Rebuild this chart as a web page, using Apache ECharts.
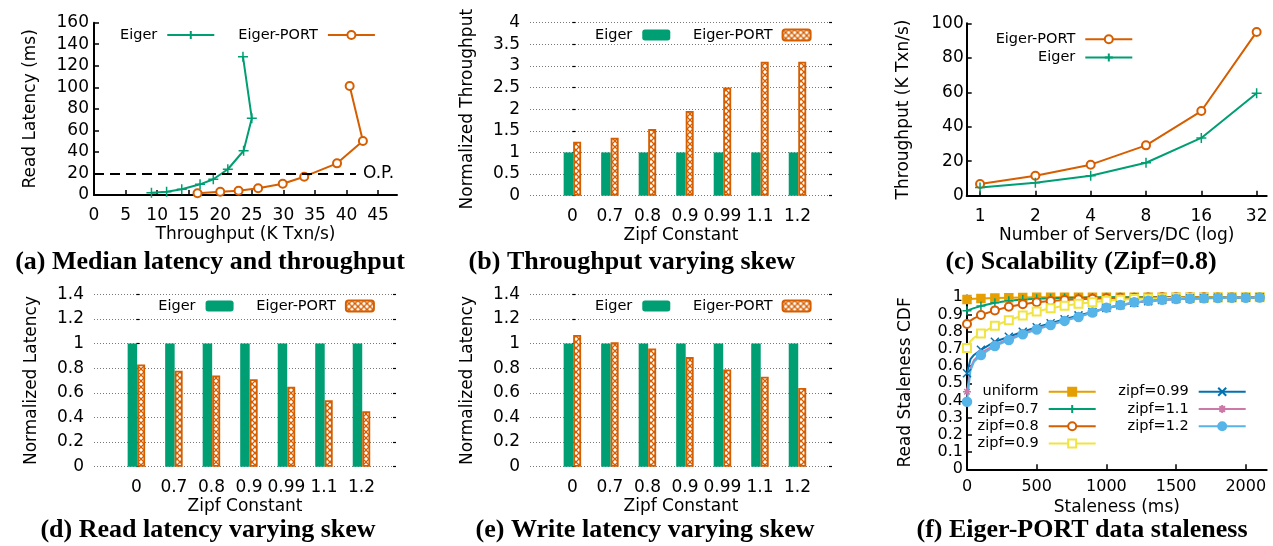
<!DOCTYPE html>
<html>
<head>
<meta charset="utf-8">
<title>Eiger vs Eiger-PORT</title>
<script src="https://cdn.jsdelivr.net/npm/echarts@6/dist/echarts.min.js"></script>
<style>
  html, body { margin: 0; padding: 0; background: #fff; }
  #chart { width: 1273px; height: 546px; }
</style>
</head>
<body>
<div id="chart"></div>
<script>
// (a) median read latency vs throughput
const eigerTputA = [9.1, 11.5, 13.9, 16.8, 18.9, 21.2, 23.7, 25.0, 23.6];
const eigerLatA = [2.1, 3.1, 5.3, 9.9, 14.6, 23.9, 41.1, 71.2, 128.4];
const portTputA = [16.4, 20.0, 22.9, 26.0, 29.9, 33.3, 38.5, 42.6, 40.5];
const portLatA = [1.6, 3.1, 4.0, 6.2, 10.5, 17.0, 29.4, 50.1, 101.2];
const opLatency = 20;     // operating point
const opLineEnd = 41.5;

// (b) (d) (e) share the zipf categories
const zipfLabels = ['0', '0.7', '0.8', '0.9', '0.99', '1.1', '1.2'];
const eigerNormTput = [1, 1, 1, 1, 1, 1, 1];
const portNormTput = [1.25, 1.34, 1.54, 1.96, 2.5, 3.1, 3.1];
const eigerReadLat = [1, 1, 1, 1, 1, 1, 1];
const portReadLat = [0.83, 0.78, 0.74, 0.71, 0.65, 0.54, 0.45];
const eigerWriteLat = [1, 1, 1, 1, 1, 1, 1];
const portWriteLat = [1.07, 1.01, 0.96, 0.89, 0.79, 0.73, 0.64];

// (c) scalability
const serversPerDC = [1, 2, 4, 8, 16, 32];
const portScaleTput = [6.8, 11.6, 18, 29.2, 49.1, 95];
const eigerScaleTput = [4.8, 7.5, 11.6, 19.1, 33.5, 59.4];

// (f) staleness CDF, markers only every 100 ms
const stalenessMs = [0, 25, 50, 100, 200, 300, 400, 500, 600, 700, 800, 900, 1000,
  1100, 1200, 1300, 1400, 1500, 1600, 1700, 1800, 1900, 2000, 2100];
const cdfUniform = [0.988, 0.990, 0.991, 0.993, 0.996, 0.998, 0.999, 1, 1, 1, 1, 1, 1, 1, 1, 1, 1, 1, 1, 1, 1, 1, 1, 1];
const cdfZipf07 = [0.922, 0.930, 0.937, 0.949, 0.968, 0.980, 0.988, 0.992, 0.995, 0.997, 0.998, 0.999, 1, 1, 1, 1, 1, 1, 1, 1, 1, 1, 1, 1];
const cdfZipf08 = [0.845, 0.865, 0.878, 0.897, 0.924, 0.945, 0.960, 0.971, 0.978, 0.985, 0.989, 0.992, 0.995, 0.997, 0.998, 0.999, 1, 1, 1, 1, 1, 1, 1, 1];
const cdfZipf09 = [0.705, 0.745, 0.765, 0.790, 0.835, 0.867, 0.895, 0.918, 0.937, 0.951, 0.963, 0.972, 0.980, 0.986, 0.990, 0.993, 0.995, 0.997, 0.998, 0.998, 0.999, 0.999, 1, 1];
const cdfZipf099 = [0.558, 0.640, 0.665, 0.695, 0.742, 0.771, 0.800, 0.826, 0.849, 0.872, 0.895, 0.915, 0.938, 0.954, 0.968, 0.978, 0.985, 0.990, 0.993, 0.995, 0.997, 0.998, 0.999, 1];
const cdfZipf11 = [0.451, 0.590, 0.635, 0.675, 0.725, 0.758, 0.790, 0.817, 0.842, 0.866, 0.889, 0.911, 0.937, 0.953, 0.969, 0.979, 0.985, 0.989, 0.992, 0.995, 0.996, 0.998, 0.999, 1];
const cdfZipf12 = [0.393, 0.575, 0.625, 0.664, 0.717, 0.752, 0.785, 0.813, 0.839, 0.863, 0.886, 0.912, 0.940, 0.955, 0.971, 0.980, 0.986, 0.990, 0.992, 0.994, 0.996, 0.997, 0.998, 0.999];
const markerEveryMs = 100;

const FONT = 'DejaVu Sans';
const BLACK = '#000';
const C_GREEN = '#009e73';
const C_ORANGE = '#d55e00';
const C_UNIFORM = '#e69f00';
const C_YELLOW = '#f0e442';
const C_BLUE = '#0072b2';
const C_PINK = '#cc79a7';
const C_SKY = '#56b4e9';

const SYM_PLUS = 'path://M5,0V10M0,5H10';
const SYM_CROSS = 'path://M0,0L10,10M10,0L0,10';
const SYM_STAR = 'path://M5,0V10M0,5H10M1.5,1.5L8.5,8.5M8.5,1.5L1.5,8.5';

const tickLabel = { color: BLACK, fontSize: 17, fontFamily: FONT };
const nameStyle = { color: BLACK, fontSize: 17, fontFamily: FONT };
const legendText = { color: BLACK, fontSize: 14.5, fontFamily: FONT, lineHeight: 15, padding: [0, 5, 0, 0] };

function hatchPattern(color) {
  const size = 6;
  const c = document.createElement('canvas');
  c.width = size; c.height = size;
  const g = c.getContext('2d');
  g.fillStyle = '#ffffff';
  g.fillRect(0, 0, size, size);
  g.strokeStyle = color;
  g.lineWidth = 1.3;
  g.beginPath();
  g.moveTo(0, 0); g.lineTo(size, size);
  g.moveTo(size, 0); g.lineTo(0, size);
  g.stroke();
  return { image: c, repeat: 'repeat' };
}
const portHatch = hatchPattern(C_ORANGE);

const grids = [
  { left: 94, top: 22.7, width: 303, height: 172.3 },    // a
  { left: 530, top: 22.7, width: 302, height: 173 },     // b
  { left: 966.7, top: 23.3, width: 300, height: 172.4 }, // c
  { left: 94, top: 294.3, width: 302, height: 172.4 },   // d
  { left: 530, top: 294.3, width: 302, height: 172.4 },  // e
  { left: 967, top: 295.6, width: 299.7, height: 173.7 } // f
].map(g => ({ ...g, containLabel: false, outerBoundsMode: 'none' }));

const xAxes = [];
const yAxes = [];
const series = [];
const legends = [];

// plain gnuplot style axis with a border on left/bottom and inward ticks
function borderAxis(extra) {
  return Object.assign({
    type: 'value',
    nameLocation: 'middle',
    nameTextStyle: nameStyle,
    axisLine: { show: true, onZero: false, lineStyle: { color: BLACK, width: 2 } },
    axisTick: { show: true, inside: true, length: 5, lineStyle: { color: BLACK, width: 1.5 } },
    splitLine: { show: false }
  }, extra);
}

function lineSeries(name, xi, yi, color, symbol, symbolSize, data) {
  return {
    name, type: 'line', xAxisIndex: xi, yAxisIndex: yi,
    symbol, symbolSize,
    lineStyle: { color, width: 2 },
    itemStyle: { color, borderColor: color, borderWidth: 1.5 },
    data
  };
}

// ---- (a)
xAxes.push(borderAxis({
  gridIndex: 0, min: 0, max: 48, interval: 5,
  name: 'Throughput (K Txn/s)', nameGap: 31,
  axisLabel: { ...tickLabel, margin: 12, showMaxLabel: false }
}));
yAxes.push(borderAxis({
  gridIndex: 0, min: 0, max: 160, interval: 20,
  name: 'Read Latency (ms)', nameGap: 55,
  axisLabel: { ...tickLabel, margin: 5 }
}));
series.push(Object.assign(
  lineSeries('a:Eiger', 0, 0, C_GREEN, SYM_PLUS, 10, eigerTputA.map((x, i) => [x, eigerLatA[i]])),
  {
    markLine: {
      silent: true, symbol: 'none',
      lineStyle: { color: BLACK, type: [10, 6], width: 2 },
      label: { show: true, position: 'end', formatter: 'O.P.', color: BLACK, fontSize: 17, fontFamily: FONT, distance: 7 },
      data: [[{ coord: [0, opLatency] }, { coord: [opLineEnd, opLatency] }]]
    }
  }
));
series.push(lineSeries('a:Eiger-PORT', 0, 0, C_ORANGE, 'emptyCircle', 8, portTputA.map((x, i) => [x, portLatA[i]])));
legends.push({
  left: 120, top: 27.5, orient: 'horizontal', align: 'right',
  itemWidth: 47, itemHeight: 10, itemGap: 23,
  data: ['a:Eiger', 'a:Eiger-PORT']
});

// ---- bar panels (b) (d) (e)
function addBarPanel(p) {
  const xi = xAxes.length;
  xAxes.push({
    type: 'value', gridIndex: p.grid, min: -1.13, max: 6.92,
    name: 'Zipf Constant', nameLocation: 'middle', nameGap: 31, nameTextStyle: nameStyle,
    axisLine: { show: false, onZero: false }, axisTick: { show: false }, splitLine: { show: false },
    axisLabel: {
      ...tickLabel, margin: 12,
      customValues: zipfLabels.map((_, i) => i),
      formatter: v => zipfLabels[Math.round(v)]
    }
  });
  const yi = yAxes.length;
  const tick = { show: true, inside: true, length: 3, lineStyle: { color: BLACK, width: 1.2 } };
  yAxes.push({
    type: 'value', gridIndex: p.grid, min: 0, max: p.max, interval: p.interval,
    name: p.yName, nameLocation: 'middle', nameGap: 54, nameTextStyle: nameStyle,
    axisLine: { show: false }, axisTick: tick,
    axisLabel: { ...tickLabel, margin: 10 },
    splitLine: { show: true, lineStyle: { color: '#777', type: [1, 2], width: 1 } }
  });
  yAxes.push({
    type: 'value', gridIndex: p.grid, position: 'right', min: 0, max: p.max, interval: p.interval,
    axisLine: { show: false }, axisTick: tick, axisLabel: { show: false }, splitLine: { show: false }
  });
  series.push({
    name: p.key + ':Eiger', type: 'bar', xAxisIndex: xi, yAxisIndex: yi,
    barWidth: 9.5, barGap: '0%',
    itemStyle: { color: C_GREEN },
    data: p.eiger.map((v, i) => [i, v])
  });
  series.push({
    name: p.key + ':Eiger-PORT', type: 'bar', xAxisIndex: xi, yAxisIndex: yi,
    barWidth: 8, barGap: '0%',
    itemStyle: { color: portHatch, borderColor: C_ORANGE, borderWidth: 1.8 },
    data: p.port.map((v, i) => [i, v])
  });
  legends.push({
    left: p.legendLeft, top: p.legendTop, orient: 'horizontal', align: 'right',
    itemWidth: 28, itemHeight: 11, itemGap: 22.7,
    data: [p.key + ':Eiger', p.key + ':Eiger-PORT']
  });
}

addBarPanel({ key: 'b', grid: 1, max: 4, interval: 0.5, yName: 'Normalized Throughput',
  eiger: eigerNormTput, port: portNormTput, legendLeft: 595, legendTop: 27.5 });

// ---- (c)
xAxes.push(borderAxis({
  type: 'log', logBase: 2, gridIndex: 2, min: 0.846, max: 36.3,
  name: 'Number of Servers/DC (log)', nameGap: 31,
  axisLabel: { ...tickLabel, margin: 12, showMinLabel: false, showMaxLabel: false }
}));
yAxes.push(borderAxis({
  gridIndex: 2, min: 0, max: 100, interval: 20,
  name: 'Throughput (K Txn/s)', nameGap: 55,
  axisLabel: { ...tickLabel, margin: 3 }
}));
series.push(lineSeries('c:Eiger-PORT', 2, 3, C_ORANGE, 'emptyCircle', 8, serversPerDC.map((s, i) => [s, portScaleTput[i]])));
series.push(lineSeries('c:Eiger', 2, 3, C_GREEN, SYM_PLUS, 10, serversPerDC.map((s, i) => [s, eigerScaleTput[i]])));
legends.push({
  right: 139.7, top: 31.8, orient: 'vertical', align: 'right',
  itemWidth: 47, itemHeight: 10, itemGap: 3.3,
  data: ['c:Eiger-PORT', 'c:Eiger']
});

addBarPanel({ key: 'd', grid: 3, max: 1.4, interval: 0.2, yName: 'Normalized Latency',
  eiger: eigerReadLat, port: portReadLat, legendLeft: 158.3, legendTop: 298.5 });
addBarPanel({ key: 'e', grid: 4, max: 1.4, interval: 0.2, yName: 'Normalized Latency',
  eiger: eigerWriteLat, port: portWriteLat, legendLeft: 595, legendTop: 298.5 });

// ---- (f)
const fx = xAxes.length;
xAxes.push(borderAxis({
  gridIndex: 5, min: 0, max: 2150, interval: 500,
  name: 'Staleness (ms)', nameGap: 30,
  axisLabel: { ...tickLabel, fontSize: 16, margin: 10, showMaxLabel: false, formatter: v => String(v) }
}));
const fy = yAxes.length;
yAxes.push(borderAxis({
  gridIndex: 5, min: 0, max: 1.01, interval: 0.1,
  name: 'Read Staleness CDF', nameGap: 53,
  axisLabel: { ...tickLabel, fontSize: 16, margin: 4, showMaxLabel: false }
}));

function cdfData(values) {
  return stalenessMs.map((ms, i) => ms % markerEveryMs === 0
    ? [ms, values[i]]
    : { value: [ms, values[i]], symbol: 'none' });
}
const cdfSeries = [
  ['f:uniform', cdfUniform, C_UNIFORM, 'rect', 8],
  ['f:zipf=0.7', cdfZipf07, C_GREEN, SYM_PLUS, 9],
  ['f:zipf=0.8', cdfZipf08, C_ORANGE, 'emptyCircle', 8],
  ['f:zipf=0.9', cdfZipf09, C_YELLOW, 'emptyRect', 8],
  ['f:zipf=0.99', cdfZipf099, C_BLUE, SYM_CROSS, 8],
  ['f:zipf=1.1', cdfZipf11, C_PINK, SYM_STAR, 8],
  ['f:zipf=1.2', cdfZipf12, C_SKY, 'circle', 9]
];
cdfSeries.forEach(([name, vals, color, sym, size]) => {
  series.push(lineSeries(name, fx, fy, color, sym, size, cdfData(vals)));
});
legends.push({
  right: 176.3, top: 384.2, orient: 'vertical', align: 'right',
  itemWidth: 47, itemHeight: 10, itemGap: 2.3,
  data: ['f:uniform', 'f:zipf=0.7', 'f:zipf=0.8', 'f:zipf=0.9']
});
legends.push({
  right: 26.3, top: 384.2, orient: 'vertical', align: 'right',
  itemWidth: 47, itemHeight: 10, itemGap: 2.3,
  data: ['f:zipf=0.99', 'f:zipf=1.1', 'f:zipf=1.2']
});

legends.forEach(l => {
  l.padding = 0;
  l.textStyle = legendText;
  l.formatter = n => n.slice(2);
  l.selectedMode = false;
});

// subfigure captions
const captions = [
  ['(a) Median latency and throughput', 210, 262],
  ['(b) Throughput varying skew', 632, 262],
  ['(c) Scalability (Zipf=0.8)', 1081, 262],
  ['(d) Read latency varying skew', 208, 530],
  ['(e) Write latency varying skew', 645, 530],
  ['(f) Eiger-PORT data staleness', 1082, 530]
];

const chart = echarts.init(document.getElementById('chart'));
chart.setOption({
  animation: false,
  backgroundColor: '#fff',
  textStyle: { fontFamily: FONT },
  grid: grids,
  xAxis: xAxes,
  yAxis: yAxes,
  legend: legends,
  series,
  graphic: captions.map(([text, x, y]) => ({
    type: 'text', x, y, silent: true,
    style: {
      text, fill: BLACK, align: 'center', verticalAlign: 'middle',
      font: 'bold 26px "Liberation Serif"'
    }
  }))
});
</script>
</body>
</html>
